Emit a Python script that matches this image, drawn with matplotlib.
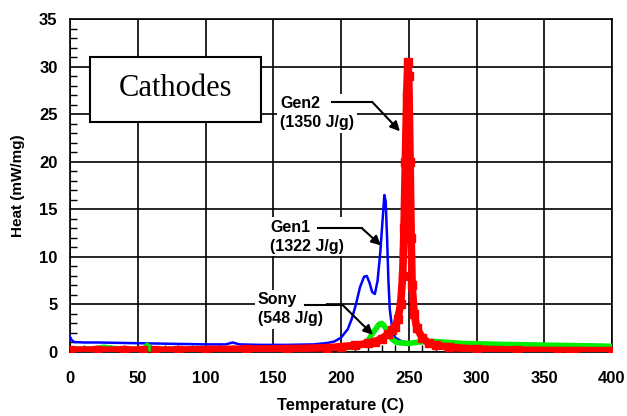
import numpy as np
import matplotlib
matplotlib.use("Agg")
import matplotlib.pyplot as plt
from matplotlib.patches import Rectangle
from matplotlib.ticker import MultipleLocator

nan = np.nan

# Gen1 (blue)
gen1_t = [0, 1, 3, 10, 20, 40, 60, 80, 100, 115, 120, 125, 140, 160, 180, 190, 195, 200, 205, 208,
          211, 214, 217, 219, 221, 223, 225, 227, 229, 231, 232, 233, 234, 235, 236, 238, 240, 245,
          250, 260, 280, 300, 320, 340, 360, 380, 400]
gen1_v = [1.6, 1.3, 1.05, 1.0, 1.0, 0.95, 0.9, 0.85, 0.8, 0.8, 1.0, 0.8, 0.75, 0.75, 0.8, 0.95, 1.1,
          1.5, 2.4, 3.5, 5.0, 6.8, 7.9, 8.0, 7.3, 6.3, 6.1, 7.5, 10.5, 14.5, 16.5, 15.8, 12, 7.5, 4.5,
          2.2, 1.5, 1.1, 1.0, 0.95, 0.9, 0.9, 0.85, 0.8, 0.8, 0.75, 0.7]

# Sony (green)
sony_t = [0, 10, 20, 25, 30, 40, 50, 55, 57, 59, 62, 70, 100, 150, 180, 200, 210, 215, 220, 223, 226,
          228, 230, 231, 233, 235, 238, 241, 245, 250, 255, 260, 270, 290, 320, 360, 400]
sony_v = [0.3, 0.3, 0.35, 0.5, 0.4, 0.3, 0.3, 0.35, 0.7, 0.3, 0.3, 0.3, 0.3, 0.35, 0.4, 0.45, 0.5,
          0.7, 1.2, 1.9, 2.5, 2.9, 3.0, 2.9, 2.5, 1.8, 1.3, 1.0, 0.95, 0.9, 1.0, 1.1, 1.1, 0.9, 0.8,
          0.7, 0.6]

# Gen2 (red)
gen2_t = [0, 20, 40, 54, 55, 62, 63, 80, 100, 130, 160, 190, 200, 210, 220, 225, 230, 235, 238, 240,
          242, 244, 245.5, 246.5, 247.5, 248.5, 249.3, 250, 251, 251.8, 252.5, 254, 256, 260, 265,
          270, 280, 300, 330, 360, 369, 370, 372, 373, 400]
gen2_v = [0.2, 0.2, 0.2, 0.2, nan, nan, 0.2, 0.2, 0.25, 0.3, 0.35, 0.45, 0.55, 0.7, 0.9, 1.1, 1.4,
          1.9, 2.3, 2.6, 3.5, 5.0, 8.0, 13, 20, 27, 30.5, 29, 20, 12, 7, 4, 2.5, 1.5, 0.9, 0.7, 0.5,
          0.3, 0.2, 0.15, 0.15, nan, nan, 0.15, 0.15]

x_ticks = [0, 50, 100, 150, 200, 250, 300, 350, 400]
y_ticks = [0, 5, 10, 15, 20, 25, 30, 35]

plt.rcParams['font.family'] = ['Liberation Sans', 'DejaVu Sans']

fig = plt.figure(figsize=(6.27, 4.16), dpi=100)
ax = fig.add_axes([70/627, 64/416, 542/627, (352-19)/416])

ax.set_xlim(0, 400)
ax.set_ylim(0, 35)
ax.set_xticks(x_ticks)
ax.set_xticklabels([str(v) for v in x_ticks], fontweight='bold', fontsize=12)
ax.set_yticks(y_ticks)
ax.set_yticklabels([str(v) for v in y_ticks], fontweight='bold', fontsize=12)
ax.xaxis.set_minor_locator(MultipleLocator(10))
ax.yaxis.set_minor_locator(MultipleLocator(1))
ax.grid(True, which='major', color='black', lw=1.2)
ax.set_axisbelow(True)
ax.tick_params(which='both', direction='in', top=False, right=False)
ax.tick_params(which='major', length=0)
ax.tick_params(axis='x', which='major', pad=14)
ax.tick_params(axis='y', which='major', pad=9)
ax.tick_params(which='minor', length=5, width=1)
for s in ax.spines.values():
    s.set_linewidth(1.2)

ax.plot(gen1_t, gen1_v, color='#0000ff', lw=1.8, zorder=3)
ax.plot(sony_t, sony_v, color='#00ee00', lw=4, zorder=4)
ax.plot(gen2_t, gen2_v, color='#ff0000', lw=5.5, zorder=5, solid_capstyle='butt')
ax.plot(gen2_t, gen2_v, ls='none', marker='s', ms=5.5, color='#ff0000', zorder=5)

ax.set_xlabel('Temperature (C)', fontsize=12, fontweight='bold', labelpad=8)
ax.set_ylabel('Heat (mW/mg)', fontsize=11, fontweight='bold', labelpad=10)

# Cathodes box
ax.add_patch(Rectangle((14.8, 24.2), 126.2, 6.8, facecolor='white', edgecolor='black', lw=1.5, zorder=6))
ax.text(77.5, 27.7, 'Cathodes', fontsize=22, family='Liberation Serif', ha='center', va='center', zorder=7)

def annot(text, tx, ty, start, corner, head):
    ax.text(tx, ty, text, fontsize=11.5, fontweight='bold', ha='left',
            va='center', linespacing=1.3, zorder=7,
            bbox=dict(facecolor='white', edgecolor='none', pad=2))
    ax.plot([start[0], corner[0]], [start[1], corner[1]], color='black', lw=1.5, zorder=7)
    ax.annotate('', xy=head, xytext=corner, zorder=7,
                arrowprops=dict(arrowstyle='-|>', color='black', lw=1.5, mutation_scale=14, shrinkA=0, shrinkB=0))

annot('Gen2\n(1350 J/g)', 155, 25.1, (193.4, 26.3), (222.9, 26.3), (243.5, 23.2))
annot('Gen1\n(1322 J/g)', 147.6, 12.1, (183, 13.0), (215.5, 13.0), (229.5, 11.2))
annot('Sony\n(548 J/g)', 138.7, 4.5, (173.4, 4.9), (201.5, 4.9), (223.6, 1.8))

fig.savefig('out.png', dpi=100)
